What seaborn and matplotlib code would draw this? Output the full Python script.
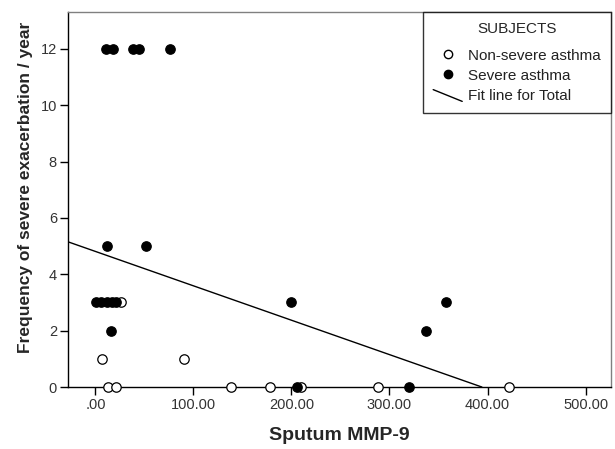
import seaborn as sns
import matplotlib.pyplot as plt
import pandas as pd
from matplotlib.lines import Line2D
from matplotlib.legend_handler import HandlerLine2D

# values
severe_x = [11, 18, 38, 44, 76, 11.5, 52, 1, 6, 12, 17, 21, 199, 16, 337, 358, 206, 320]
severe_y = [12, 12, 12, 12, 12, 5, 5, 3, 3, 3, 3, 3, 3, 2, 2, 3, 0, 0]
nonsevere_x = [13, 21, 138, 178, 210, 288, 422, 7, 90, 26]
nonsevere_y = [0, 0, 0, 0, 0, 0, 0, 1, 1, 3]
fit_intercept = 4.81
fit_slope = -0.0122

x_ticks = [0, 100, 200, 300, 400, 500]
x_ticklabels = [".00", "100.00", "200.00", "300.00", "400.00", "500.00"]
y_ticks = [0, 2, 4, 6, 8, 10, 12]

df = pd.DataFrame({
    "mmp9": nonsevere_x + severe_x,
    "freq": nonsevere_y + severe_y,
    "group": ["Non-severe asthma"] * len(nonsevere_x) + ["Severe asthma"] * len(severe_x),
})

sns.set_style("white")
plt.rcParams['font.family'] = ['Liberation Sans', 'DejaVu Sans']

fig = plt.figure(figsize=(6.15, 4.49), dpi=100)
ax = fig.add_axes([0.1106, 0.138, 0.8829, 0.835])

sub = df[df.group == "Non-severe asthma"]
sns.scatterplot(data=sub, x="mmp9", y="freq", ax=ax, s=46, facecolor="white",
                edgecolor="black", linewidth=0.9, clip_on=False, zorder=3)
sub = df[df.group == "Severe asthma"]
sns.scatterplot(data=sub, x="mmp9", y="freq", ax=ax, s=46, color="black",
                edgecolor="black", linewidth=0.9, clip_on=False, zorder=3)
ax.axline((0, fit_intercept), slope=fit_slope, color="black", lw=1, zorder=2)

ax.set_xlim(-28, 526)
ax.set_ylim(0, 13.3)
ax.set_xticks(x_ticks)
ax.set_xticklabels(x_ticklabels, fontsize=10.5, color="#333333")
ax.set_yticks(y_ticks)
ax.set_yticklabels([str(v) for v in y_ticks], fontsize=10.5, color="#333333")
ax.tick_params(axis="both", direction="out", length=6, width=1, color="black",
               bottom=True, left=True, pad=2)
ax.set_xlabel("Sputum MMP-9", fontsize=14, fontweight="bold", labelpad=11)
ax.set_ylabel("Frequency of severe exacerbation / year", fontsize=12.5,
              fontweight="bold")
ax.yaxis.set_label_coords(-0.065, 0.533)
for s in ["left", "bottom"]:
    ax.spines[s].set_color("black")
    ax.spines[s].set_linewidth(1)
for s in ["top", "right"]:
    ax.spines[s].set_color("#808080")
    ax.spines[s].set_linewidth(1)


class DiagHandler(HandlerLine2D):
    def create_artists(self, legend, orig_handle, xdescent, ydescent, width,
                       height, fontsize, trans):
        line = Line2D([-xdescent, -xdescent + width],
                      [height * 0.95, -height * 0.15 - ydescent],
                      color="black", lw=1, transform=trans)
        return [line]


handles = [
    Line2D([], [], marker="o", ls="", markerfacecolor="white", markeredgecolor="black", markersize=6),
    Line2D([], [], marker="o", ls="", markerfacecolor="black", markeredgecolor="black", markersize=6),
    Line2D([], [], color="black", lw=1),
]
leg = ax.legend(handles, ["Non-severe asthma", "Severe asthma", "Fit line for Total"],
                title="SUBJECTS", loc="upper right", bbox_to_anchor=(1.0, 1.0),
                fontsize=11, title_fontsize=11, frameon=True, fancybox=False,
                edgecolor="black", handlelength=1.9, handletextpad=0.4,
                borderaxespad=0, labelspacing=0.4, borderpad=0.65,
                handler_map={handles[2]: DiagHandler()})
leg._legend_box.sep = 9
leg.get_frame().set_linewidth(1)
for t in leg.get_texts():
    t.set_color("#222222")

plt.savefig("out.png", dpi=100)
